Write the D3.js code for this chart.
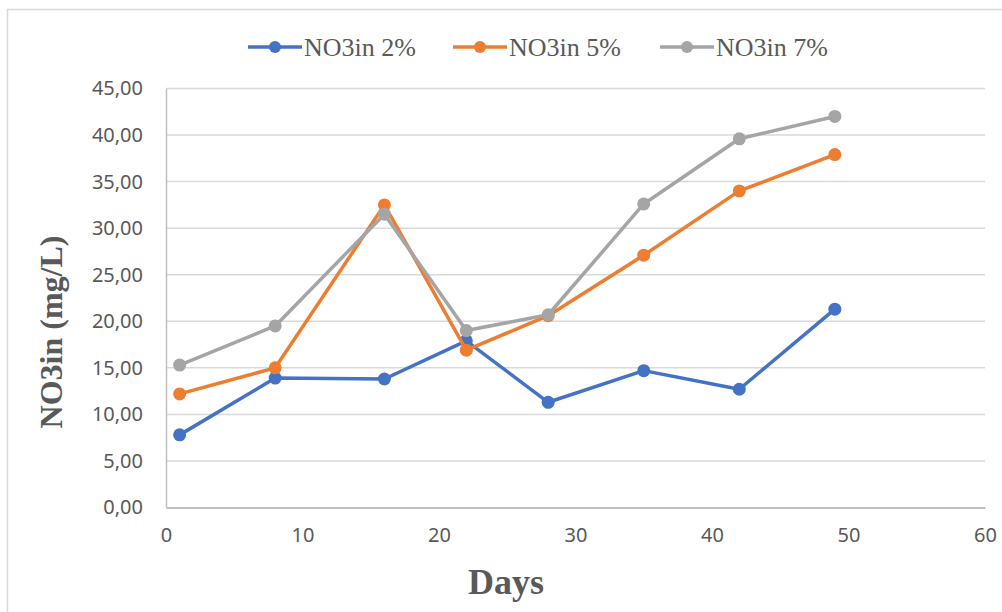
<!DOCTYPE html>
<html>
<head>
<meta charset="utf-8">
<script src="https://cdn.jsdelivr.net/npm/d3@7"></script>
<style>
  html, body { margin: 0; padding: 0; background: #fff; }
  svg { display: block; }
</style>
</head>
<body>
<div id="chart"></div>
<script>
// Sampling days and nitrate concentrations (mg/L) for each dosage
const days = [1, 8, 16, 22, 28, 35, 42, 49];
const no3in2 = [7.8, 13.9, 13.8, 17.9, 11.3, 14.7, 12.7, 21.3];
const no3in5 = [12.2, 15.0, 32.5, 16.9, 20.6, 27.1, 34.0, 37.9];
const no3in7 = [15.3, 19.5, 31.5, 19.0, 20.7, 32.6, 39.6, 42.0];
const seriesNames = ["NO3in 2%", "NO3in 5%", "NO3in 7%"];
const seriesColors = ["#4472C4", "#ED7D31", "#A5A5A5"];
const xTicks = [0, 10, 20, 30, 40, 50, 60];
const yTicks = [0, 5, 10, 15, 20, 25, 30, 35, 40, 45];

const series = [no3in2, no3in5, no3in7].map((vals, i) => ({
  name: seriesNames[i],
  color: seriesColors[i],
  points: days.map((d, j) => ({ day: d, value: vals[j] }))
}));

const W = 1002, H = 612;
const svg = d3.select("#chart").append("svg").attr("width", W).attr("height", H);

// chart frame
svg.append("rect")
  .attr("x", 7.5).attr("y", 9.5).attr("width", W).attr("height", H)
  .attr("fill", "#fff").attr("stroke", "#D9D9D9").attr("stroke-width", 1.5);

const x = d3.scaleLinear().domain([0, 60]).range([166, 985]);
const y = d3.scaleLinear().domain([0, 45]).range([507.5, 88.5]);

const locale = d3.formatLocale({ decimal: ",", thousands: ".", grouping: [3], currency: ["", ""] });
const fmt = locale.format(".2f");

const tickFont = "'Noto Sans', sans-serif";
const textColor = "#595959";

// horizontal gridlines
svg.append("g").selectAll("line")
  .data(yTicks.filter(t => t > 0))
  .join("line")
  .attr("x1", x(0)).attr("x2", x(60))
  .attr("y1", d => y(d)).attr("y2", d => y(d))
  .attr("stroke", "#D9D9D9").attr("stroke-width", 1.5);

// y axis
const yAxis = svg.append("g")
  .attr("transform", `translate(${x(0)},0)`)
  .call(d3.axisLeft(y).tickValues(yTicks).tickFormat(fmt).tickSize(0).tickPadding(23));
yAxis.select(".domain").attr("stroke", "#BFBFBF").attr("stroke-width", 1.5);
yAxis.selectAll("text")
  .attr("font-family", tickFont).attr("font-size", 20).attr("fill", textColor);

// x axis
const xAxis = svg.append("g")
  .attr("transform", `translate(0,${y(0)})`)
  .call(d3.axisBottom(x).tickValues(xTicks).tickFormat(d3.format("d")).tickSize(0).tickPadding(20));
xAxis.select(".domain").attr("stroke", "#BFBFBF").attr("stroke-width", 2);
xAxis.selectAll("text")
  .attr("font-family", tickFont).attr("font-size", 20).attr("fill", textColor);

// axis titles
svg.append("text")
  .attr("x", 506).attr("y", 594)
  .attr("text-anchor", "middle")
  .attr("font-family", "'Liberation Serif', 'Times New Roman', serif")
  .attr("font-weight", "bold").attr("font-size", 36).attr("fill", textColor)
  .text("Days");

svg.append("text")
  .attr("transform", "translate(62,332) rotate(-90)")
  .attr("text-anchor", "middle")
  .attr("font-family", "'Liberation Serif', 'Times New Roman', serif")
  .attr("font-weight", "bold").attr("font-size", 32).attr("fill", textColor)
  .text("NO3in (mg/L)");

// series lines and markers
const line = d3.line().x(d => x(d.day)).y(d => y(d.value));
series.forEach(s => {
  const g = svg.append("g");
  g.append("path")
    .datum(s.points)
    .attr("d", line)
    .attr("fill", "none")
    .attr("stroke", s.color)
    .attr("stroke-width", 3.5)
    .attr("stroke-linejoin", "round")
    .attr("stroke-linecap", "round");
  g.selectAll("circle")
    .data(s.points)
    .join("circle")
    .attr("cx", d => x(d.day)).attr("cy", d => y(d.value))
    .attr("r", 6.5)
    .attr("fill", s.color);
});

// legend
const legendX = [248, 453, 660];
const legend = svg.append("g");
series.forEach((s, i) => {
  const g = legend.append("g").attr("transform", `translate(${legendX[i]},47)`);
  g.append("line").attr("x1", 0).attr("x2", 54).attr("y1", 0).attr("y2", 0)
    .attr("stroke", s.color).attr("stroke-width", 3.5);
  g.append("circle").attr("cx", 27).attr("cy", 0).attr("r", 6).attr("fill", s.color);
  g.append("text").attr("x", 56).attr("y", 9)
    .attr("font-family", "'Liberation Serif', 'Times New Roman', serif")
    .attr("font-size", 26).attr("fill", textColor)
    .text(s.name);
});
</script>
</body>
</html>
